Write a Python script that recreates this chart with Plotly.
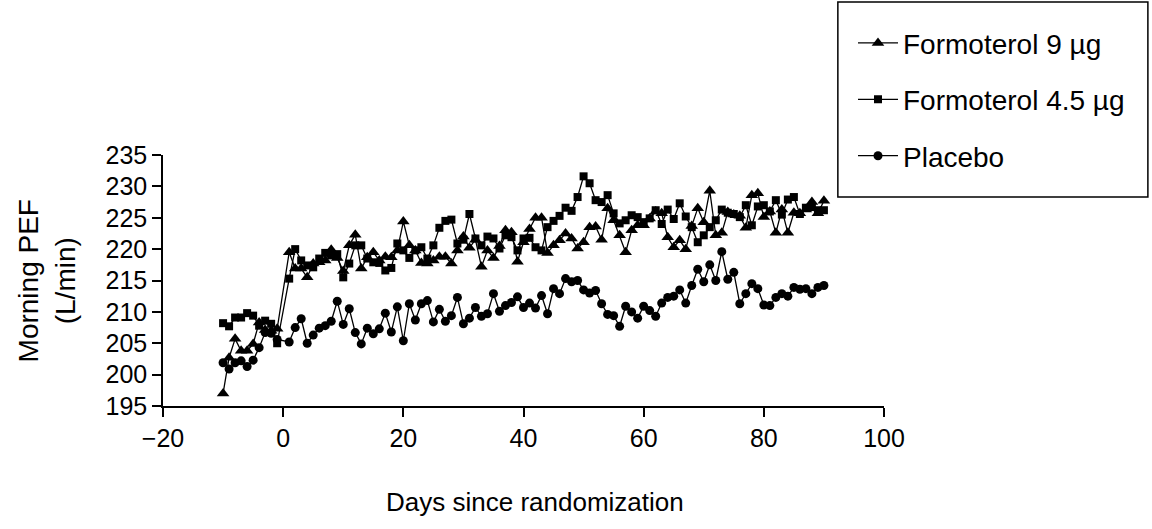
import plotly.graph_objects as go

# days since randomization (no day 0 recorded)
days = list(range(-10, 0)) + list(range(1, 91))

formoterol_9 = [
    197.0, 202.7, 205.7, 203.8, 203.8, 204.9, 208.3, 207.1, 207.0, 207.3,
    219.5, 216.9, 216.9, 215.5, 217.7, 217.9, 218.2, 219.9, 218.6,
    216.5, 220.6, 222.3, 216.9, 218.7, 219.5, 218.2, 218.8, 218.7, 219.8,
    224.4, 220.6, 219.8, 217.8, 217.7, 218.2, 218.8, 218.8, 217.7, 219.8,
    222.0, 220.2, 221.5, 217.2, 219.8, 218.6, 220.5, 223.0, 222.7, 218.0,
    221.1, 223.2, 225.0, 225.0, 219.4, 220.6, 221.4, 222.5, 221.7, 220.1,
    221.1, 223.5, 223.6, 221.5, 226.5, 224.6, 222.2, 219.5, 223.0, 223.8,
    223.8, 224.9, 226.0, 225.7, 221.9, 220.3, 221.4, 220.0, 223.7, 226.5,
    224.3, 229.3, 222.2, 222.6, 225.9, 225.5, 225.3, 223.4, 228.6, 228.9,
    225.1, 226.0, 222.6, 226.3, 222.6, 225.8, 225.7, 226.3, 227.5, 225.7, 227.7,
]

formoterol_45 = [
    208.2, 207.7, 209.1, 209.1, 209.8, 209.4, 207.8, 208.6, 208.1, 205.0,
    215.3, 220.0, 218.2, 217.4, 217.1, 218.5, 219.4, 219.0, 219.2,
    215.5, 217.7, 220.6, 220.6, 218.5, 217.9, 217.8, 216.6, 217.0, 220.9,
    219.8, 218.6, 219.8, 220.3, 218.5, 220.6, 223.4, 224.5, 224.7, 220.9,
    221.5, 225.6, 221.7, 220.6, 222.0, 221.7, 220.1, 222.2, 221.9, 219.8,
    221.7, 221.8, 220.3, 219.8, 223.5, 224.5, 225.3, 226.6, 226.1, 228.3,
    231.6, 230.5, 227.8, 227.5, 228.6, 225.7, 224.1, 224.6, 225.4, 225.1,
    224.3, 224.9, 226.2, 224.0, 226.3, 224.8, 227.3, 225.2, 223.5, 221.1,
    222.2, 223.5, 224.6, 226.3, 225.8, 225.6, 225.1, 227.0, 223.8, 226.8,
    227.0, 226.0, 227.8, 225.5, 227.9, 228.3, 225.6, 226.6, 226.7, 226.2, 226.2,
]

placebo = [
    201.9, 200.9, 201.9, 202.2, 201.3, 202.3, 204.3, 206.7, 206.6, 205.6,
    205.2, 207.5, 208.9, 205.0, 206.3, 207.4, 207.8, 208.5, 211.7,
    208.0, 210.5, 206.7, 204.9, 207.4, 206.5, 207.3, 209.8, 206.8, 210.8,
    205.4, 211.3, 208.7, 211.3, 211.8, 208.4, 210.4, 208.5, 209.4, 212.3,
    208.1, 209.0, 210.7, 209.3, 209.7, 212.9, 210.1, 211.0, 211.5, 212.4,
    210.7, 211.4, 210.6, 212.6, 209.7, 213.7, 212.9, 215.3, 214.8, 215.0,
    213.5, 213.0, 213.4, 211.3, 209.6, 209.4, 207.7, 210.9, 210.0, 209.0,
    210.9, 210.2, 209.3, 211.4, 212.3, 212.5, 213.5, 211.4, 214.2, 216.8,
    214.8, 217.5, 215.0, 219.6, 215.2, 216.3, 211.3, 212.9, 214.5, 213.7,
    211.1, 211.0, 212.3, 212.9, 212.5, 213.9, 213.6, 213.7, 212.9, 213.9, 214.2,
]

series = [
    ("Formoterol 9 µg", formoterol_9, "triangle-up", 11),
    ("Formoterol 4.5 µg", formoterol_45, "square", 8),
    ("Placebo", placebo, "circle", 9),
]

FONT = "Liberation Sans, Arial, sans-serif"

fig = go.Figure()
for i, (name, vals, sym, size) in enumerate(series):
    fig.add_trace(go.Scatter(
        x=days, y=vals, name=name, mode="lines+markers",
        line=dict(color="black", width=1.3),
        marker=dict(symbol=sym, size=size, color="black"),
        legendgroup=str(i),
    ))

axis_common = dict(
    showgrid=False, zeroline=False, showline=True, linecolor="black",
    linewidth=1.5, ticks="outside", ticklen=9, tickwidth=1.5,
    tickcolor="black", tickfont=dict(family=FONT, size=25, color="black"),
)

fig.update_xaxes(range=[-20, 100], tickvals=[-20, 0, 20, 40, 60, 80, 100], **axis_common)
fig.update_yaxes(range=[195, 235], tickvals=list(range(195, 236, 5)), **axis_common)

fig.update_layout(
    width=1152, height=529,
    margin=dict(l=163, r=268, t=155, b=123),
    paper_bgcolor="white", plot_bgcolor="white",
    font=dict(family=FONT, size=25, color="black"),
    legend=dict(
        x=0.957, y=1.545, xanchor="left", yanchor="top",
        bgcolor="rgba(0,0,0,0)", borderwidth=0,
        font=dict(family=FONT, size=28, color="black"),
        tracegroupgap=17, itemwidth=40,
    ),
    shapes=[dict(
        type="rect", xref="paper", yref="paper",
        x0=0.936, x1=1.366, y0=0.833, y1=1.61,
        line=dict(color="black", width=1.5), fillcolor="rgba(0,0,0,0)",
    )],
    annotations=[
        dict(text="Days since randomization", xref="paper", yref="paper",
             x=0.516, y=-0.382, xanchor="center", yanchor="middle",
             showarrow=False, font=dict(family=FONT, size=26, color="black")),
        dict(text="Morning PEF<br>(L/min)", xref="paper", yref="paper",
             x=-0.161, y=0.5, xanchor="center", yanchor="middle", textangle=-90,
             showarrow=False, font=dict(family=FONT, size=28, color="black")),
    ],
)

# drop the default body margin so the figure sits at the page origin
fig.write_html(
    "out.html",
    config={"displayModeBar": False},
    post_script="document.body.style.margin='0px';",
)
